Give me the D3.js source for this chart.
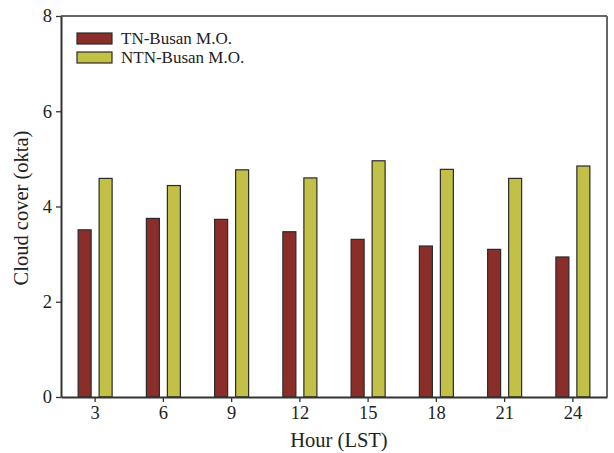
<!DOCTYPE html>
<html>
<head>
<meta charset="utf-8">
<script src="https://cdn.jsdelivr.net/npm/d3@7"></script>
<style>
  body { margin: 0; background: #fff; }
  text { font-family: "Liberation Serif", "Times New Roman", serif; fill: #222; }
</style>
</head>
<body>
<svg width="614" height="453"></svg>
<script>
var hours = [3, 6, 9, 12, 15, 18, 21, 24];
var series = ["TN-Busan M.O.", "NTN-Busan M.O."];
var tnBusan = [3.51, 3.75, 3.73, 3.47, 3.31, 3.17, 3.10, 2.94];
var ntnBusan = [4.59, 4.44, 4.77, 4.60, 4.96, 4.78, 4.59, 4.85];
var yTicks = [0, 2, 4, 6, 8];
var colors = ["#8b2d28", "#c2c046"];

var plotLeft = 61, plotRight = 607, plotTop = 16, plotBottom = 397;

var svg = d3.select("svg");

var x = d3.scaleBand()
  .domain(hours)
  .range([plotLeft, plotRight])
  .padding(0);

var x1 = d3.scaleBand()
  .domain(series)
  .range([x.bandwidth() / 2 - 17, x.bandwidth() / 2 + 17])
  .paddingInner(0.381);

var y = d3.scaleLinear()
  .domain([0, 8])
  .range([plotBottom, plotTop]);

var rows = hours.map(function(h, i) {
  return { hour: h, values: [tnBusan[i], ntnBusan[i]] };
});

// frame top and right
svg.append("line")
  .attr("x1", plotLeft).attr("x2", plotRight)
  .attr("y1", plotTop).attr("y2", plotTop)
  .attr("stroke", "#333").attr("stroke-width", 1.5);
svg.append("line")
  .attr("x1", plotRight).attr("x2", plotRight)
  .attr("y1", plotTop).attr("y2", plotBottom)
  .attr("stroke", "#666").attr("stroke-width", 2);

var groups = svg.append("g")
  .selectAll("g")
  .data(rows)
  .enter()
  .append("g")
  .attr("transform", function(d) { return "translate(" + x(d.hour) + ",0)"; });

groups.selectAll("rect")
  .data(function(d) { return d.values.map(function(v, k) { return { key: series[k], value: v, k: k }; }); })
  .enter()
  .append("rect")
  .attr("x", function(d) { return x1(d.key); })
  .attr("y", function(d) { return y(d.value); })
  .attr("width", x1.bandwidth())
  .attr("height", function(d) { return plotBottom - y(d.value); })
  .attr("fill", function(d) { return colors[d.k]; })
  .attr("stroke", "#2a2a2a")
  .attr("stroke-width", 1.2);

var xAxis = svg.append("g")
  .attr("transform", "translate(0," + plotBottom + ")")
  .call(d3.axisBottom(x).tickSize(5).tickSizeOuter(0).tickPadding(4));

var yAxis = svg.append("g")
  .attr("transform", "translate(" + plotLeft + ",0)")
  .call(d3.axisLeft(y).tickValues(yTicks).tickSize(5).tickSizeOuter(0).tickPadding(4));

[xAxis, yAxis].forEach(function(a) {
  a.select(".domain").attr("stroke", "#333").attr("stroke-width", 2);
  a.selectAll(".tick line").attr("stroke", "#333").attr("stroke-width", 1.3);
  a.selectAll(".tick text")
    .attr("font-size", "18.5px")
    .attr("font-family", "'Liberation Serif', serif")
    .attr("fill", "#222");
});

svg.append("text")
  .attr("x", (plotLeft + plotRight) / 2 + 5)
  .attr("y", 447)
  .attr("text-anchor", "middle")
  .attr("font-size", "20.5px")
  .text("Hour (LST)");

svg.append("text")
  .attr("transform", "translate(28," + 208 + ") rotate(-90)")
  .attr("text-anchor", "middle")
  .attr("font-size", "20.5px")
  .text("Cloud cover (okta)");

// legend
var legend = svg.append("g")
  .selectAll("g")
  .data(series)
  .enter()
  .append("g")
  .attr("transform", function(d, i) { return "translate(77," + (33 + i * 19) + ")"; });

legend.append("rect")
  .attr("width", 35)
  .attr("height", 11)
  .attr("fill", function(d, i) { return colors[i]; })
  .attr("stroke", "#2a2a2a")
  .attr("stroke-width", 1.2);

legend.append("text")
  .attr("x", 44)
  .attr("y", 11)
  .attr("font-size", "17px")
  .text(function(d) { return d; });
</script>
</body>
</html>
